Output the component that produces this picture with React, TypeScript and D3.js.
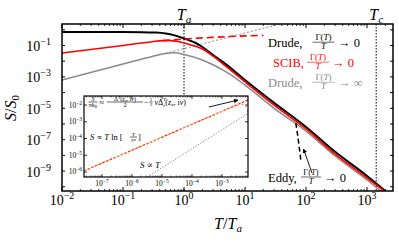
import React from "react";
import * as d3 from "d3";

// ---- main panel data (T/Ta, S/S0) ----
const drudeT = [0.01, 0.1, 0.2, 0.35, 0.5, 0.7, 1, 1.5, 2, 3, 5, 10, 30, 100, 300, 1000, 2000];
const drudeS = [0.72, 0.72, 0.71, 0.67, 0.58, 0.44, 0.28, 0.155, 0.08, 0.025, 5.8e-3, 6.3e-4, 2.2e-5, 6.5e-7, 1.7e-8, 4.9e-10, 5.4e-11];

const scibT = [0.01, 0.1, 0.3, 0.45, 0.6, 0.8, 1, 1.5, 2, 3, 5, 10, 30, 100, 300, 1000, 2000];
const scibS = [0.033, 0.1, 0.175, 0.205, 0.205, 0.18, 0.145, 0.093, 0.06, 0.021, 4.3e-3, 4.8e-4, 1.6e-5, 4.8e-7, 1.2e-8, 3.6e-10, 4.7e-11];

const scibDashT = [0.45, 1, 3, 10, 20];
const scibDashS = [0.205, 0.26, 0.33, 0.41, 0.44];

const drudeInfT = [0.01, 0.1, 0.3, 0.5, 0.7, 1, 2, 5, 10, 30, 100, 300, 1000, 2000];
const drudeInfS = [6.3e-4, 6.6e-3, 0.02, 0.031, 0.034, 0.027, 0.012, 2.0e-3, 3.0e-4, 1.0e-5, 3.5e-7, 9.1e-9, 2.7e-10, 3e-11];

const linearT = [0.5, 40];
const linearS = [0.032, 2.5];

const eddyT = [68, 72, 77, 82];
const eddyS = [1.15e-6, 2.7e-7, 4e-8, 5.1e-9];

const Ta = 1;
const Tc = 1413;

const xTicksMain = [-2, -1, 0, 1, 2, 3];
const yTicksMain = [-10, -9, -8, -7, -6, -5, -4, -3, -2, -1, 0];
const yLabelsMain = [-9, -7, -5, -3, -1];

// ---- inset data ----
const insetRedT = [2.5e-8, 1e-6, 1e-4, 7.4e-3];
const insetRedS = [1.15e-6, 2e-5, 7.1e-4, 0.02];
const insetOrangeT = [2.5e-8, 1e-6, 1e-4, 1e-3, 2.5e-3, 4.5e-3, 6.5e-3, 7.4e-3];
const insetOrangeS = [1.15e-6, 2e-5, 7.1e-4, 4.2e-3, 8e-3, 1.1e-2, 8e-3, 2.5e-3];
const insetGrayT = [3.2e-6, 7.4e-3];
const insetGrayS = [5e-7, 3.2e-3];
const insetXTicks = [-7, -6, -5, -4, -3];
const insetYTicks = [-6, -5, -4, -3, -2];

const FONT = "'Liberation Serif', 'DejaVu Serif', serif";

const M = { l: 62, r: 393, t: 24, b: 191 };
const I = { l: 84, r: 248, t: 96, b: 177 };

const x = d3.scaleLog().domain([1e-2, Math.pow(10, 3.426)]).range([M.l, M.r]);
const y = d3.scaleLog().domain([Math.pow(10, -10.27), Math.pow(10, 0.37)]).range([M.b, M.t]);
const ix = d3.scaleLog().domain([Math.pow(10, -7.6), Math.pow(10, -2.133)]).range([I.l, I.r]);
const iy = d3.scaleLog().domain([Math.pow(10, -6.3), Math.pow(10, -1.46)]).range([I.b, I.t]);

function mkLine(xs: any, ys: any, T: number[], S: number[]) {
  const pts: [number, number][] = T.map((t, i) => [xs(t), ys(S[i])]);
  return d3.line().curve(d3.curveMonotoneX)(pts) || "";
}

function Frac({ cx, by, w, fs, fill, num, den }: any) {
  return (
    <g fill={fill}>
      <text x={cx} y={by - fs * 0.22} fontSize={fs} textAnchor="middle">{num}</text>
      <line x1={cx - w / 2} x2={cx + w / 2} y1={by} y2={by} stroke={fill} strokeWidth={0.6} />
      <text x={cx} y={by + fs * 0.78} fontSize={fs} textAnchor="middle">{den}</text>
    </g>
  );
}

function GammaT() {
  return (<>Γ(<tspan fontStyle="italic">T</tspan>)</>);
}

function LegendRow({ yc, color, label, lx, fx, ax, end }: any) {
  return (
    <g fill={color} fontFamily={FONT}>
      <text x={lx} y={yc + 4.3} fontSize={12.5}>{label}</text>
      <Frac cx={fx} by={yc - 0.8} w={22} fs={9} fill={color} num={<GammaT />} den={<tspan fontStyle="italic">T</tspan>} />
      <text x={ax} y={yc + 4.3} fontSize={12.5}>{"→ "}{end}</text>
    </g>
  );
}

export default function App() {
  const minorX: number[] = [];
  for (let e = -2; e <= 3; e++) for (let k = 2; k <= 9; k++) { const v = k * Math.pow(10, e); if (v < x.domain()[1]) minorX.push(v); }
  const minorIX: number[] = [];
  for (let e = -8; e <= -3; e++) for (let k = 2; k <= 9; k++) { const v = k * Math.pow(10, e); if (v > ix.domain()[0] && v < ix.domain()[1]) minorIX.push(v); }

  return (
    <svg width={399} height={241} style={{ display: "block", position: "absolute", left: 0, top: 0 }} fontFamily={FONT}>
      <rect x={0} y={0} width={399} height={241} fill="white" />
      <defs>
        <clipPath id="mainclip"><rect x={M.l} y={M.t} width={M.r - M.l} height={M.b - M.t} /></clipPath>
        <clipPath id="insetclip"><rect x={I.l} y={I.t} width={I.r - I.l} height={I.b - I.t} /></clipPath>
        <marker id="ah" viewBox="0 0 10 10" refX="9" refY="5" markerWidth="5" markerHeight="5" orient="auto-start-reverse">
          <path d="M0,0 L10,5 L0,10 z" fill="black" />
        </marker>
      </defs>

      {/* main curves */}
      <g clipPath="url(#mainclip)" fill="none">
        <line x1={x(Ta)} x2={x(Ta)} y1={M.t} y2={M.b} stroke="black" strokeWidth={1} strokeDasharray="1.5,1.5" />
        <line x1={x(Tc)} x2={x(Tc)} y1={M.t} y2={M.b} stroke="black" strokeWidth={1} strokeDasharray="1.5,1.5" />
        <path d={mkLine(x, y, linearT, linearS)} stroke="#888" strokeWidth={1} strokeDasharray="2,2" />
        <path d={mkLine(x, y, drudeInfT, drudeInfS)} stroke="#8a8a8a" strokeWidth={1.5} />
        <path d={mkLine(x, y, drudeT, drudeS)} stroke="black" strokeWidth={2} />
        <path d={mkLine(x, y, scibT, scibS)} stroke="#ff0000" strokeWidth={1.6} />
        <path d={mkLine(x, y, scibDashT, scibDashS)} stroke="#ff0000" strokeWidth={1.6} strokeDasharray="7,4" />
        <path d={mkLine(x, y, eddyT, eddyS)} stroke="black" strokeWidth={1.5} strokeDasharray="5,3" />
      </g>

      {/* legend */}
      <rect x={265} y={30} width={104} height={62} fill="white" />
      <LegendRow yc={43} color="black" label="Drude," lx={268} fx={323.5} ax={338} end="0" />
      <LegendRow yc={63} color="#ff0000" label="SCIB," lx={273} fx={318} ax={332} end="0" />
      <LegendRow yc={83} color="#8a8a8a" label="Drude," lx={268} fx={323.5} ax={338} end="∞" />

      {/* eddy annotation */}
      <g fill="black">
        <text x={268} y={182} fontSize={12.5}>Eddy,</text>
        <Frac cx={311} by={177} w={20} fs={8.5} fill="black" num={<GammaT />} den={<tspan fontStyle="italic">T</tspan>} />
        <text x={324} y={182} fontSize={12.5}>→ 0</text>
      </g>
      <line x1={312} y1={173} x2={303.5} y2={149} stroke="black" strokeWidth={0.9} markerEnd="url(#ah)" />

      {/* inset */}
      <rect x={64} y={I.t} width={I.r - 64} height={I.b - I.t + 11} fill="white" />
      <g clipPath="url(#insetclip)" fill="none">
        <path d={mkLine(ix, iy, insetGrayT, insetGrayS)} stroke="#888" strokeWidth={0.9} strokeDasharray="1.5,1.5" />
        <path d={mkLine(ix, iy, insetRedT, insetRedS)} stroke="#ff0000" strokeWidth={1.1} strokeDasharray="2.5,1.5" />
        <path d={mkLine(ix, iy, insetOrangeT, insetOrangeS)} stroke="#ffa030" strokeWidth={1.1} strokeDasharray="2,2.5" />
      </g>
      <rect x={I.l} y={I.t} width={I.r - I.l} height={I.b - I.t} fill="none" stroke="black" strokeWidth={1.2} />
      {insetXTicks.map((e) => {
        const px = ix(Math.pow(10, e));
        return (
          <g key={"ixt" + e}>
            <line x1={px} x2={px} y1={I.b} y2={I.b - 3} stroke="black" strokeWidth={0.8} />
            <line x1={px} x2={px} y1={I.t} y2={I.t + 3} stroke="black" strokeWidth={0.8} />
            <text x={px} y={185.5} fontSize={7.5} textAnchor="middle">10<tspan dy={-3} fontSize={5.5}>{"−" + (-e)}</tspan></text>
          </g>
        );
      })}
      {minorIX.map((v, i) => (
        <g key={"imx" + i}>
          <line x1={ix(v)} x2={ix(v)} y1={I.b} y2={I.b - 1.5} stroke="black" strokeWidth={0.6} />
          <line x1={ix(v)} x2={ix(v)} y1={I.t} y2={I.t + 1.5} stroke="black" strokeWidth={0.6} />
        </g>
      ))}
      {insetYTicks.map((e) => {
        const py = iy(Math.pow(10, e));
        return (
          <g key={"iyt" + e}>
            <line x1={I.l} x2={I.l + 3} y1={py} y2={py} stroke="black" strokeWidth={0.8} />
            <line x1={I.r} x2={I.r - 3} y1={py} y2={py} stroke="black" strokeWidth={0.8} />
            <text x={82} y={py + 2.5} fontSize={7.5} textAnchor="end">10<tspan dy={-3} fontSize={5.5}>{"−" + (-e)}</tspan></text>
          </g>
        );
      })}

      {/* inset formula */}
      <g fill="black">
        <Frac cx={93} by={102} w={9} fs={6} fill="black" num={<tspan fontStyle="italic">S</tspan>} den={<>π<tspan fontStyle="italic">k</tspan><tspan fontSize={4} dy={1}>B</tspan></>} />
        <text x={99.5} y={104.5} fontSize={8}>≈</text>
        <Frac cx={125} by={102} w={36} fs={6} fill="black" num={<>Δ<tspan fontSize={4} dy={-2} fontStyle="italic">T</tspan><tspan dy={2}>(</tspan><tspan fontStyle="italic">z</tspan><tspan fontSize={4} dy={1} fontStyle="italic">a</tspan><tspan dy={-1}>, i</tspan><tspan fontStyle="italic">ν</tspan>)</>} den="2" />
        <text x={144} y={104.5} fontSize={8}>−</text>
        <Frac cx={151} by={102} w={3.5} fs={5} fill="black" num="1" den="3" />
        <text x={154.5} y={104.5} fontSize={8}><tspan fontStyle="italic">ν</tspan>Δ<tspan fontSize={5} dy={-3.5} fontStyle="italic">T</tspan><tspan fontSize={5} dx={-3} dy={6} fontStyle="italic">ν</tspan><tspan dy={-2.5}>(</tspan><tspan fontStyle="italic">z</tspan><tspan fontSize={5} dy={1.5} fontStyle="italic">a</tspan><tspan dy={-1.5}>, i</tspan><tspan fontStyle="italic">ν</tspan>)</text>
      </g>
      <line x1={209} y1={107} x2={238} y2={100} stroke="black" strokeWidth={0.9} markerEnd="url(#ah)" />

      <g fill="black">
        <text x={90} y={140} fontSize={8.5}><tspan fontStyle="italic">S</tspan> ∝ <tspan fontStyle="italic">T</tspan> ln [</text>
        <Frac cx={133.5} by={137} w={7} fs={5} fill="black" num={<tspan fontStyle="italic">T</tspan>} den={<><tspan fontStyle="italic">γa</tspan></>} />
        <text x={138} y={140} fontSize={8.5}>]</text>
        <text x={140} y={168} fontSize={9}><tspan fontStyle="italic">S</tspan> ∝ <tspan fontStyle="italic">T</tspan></text>
      </g>

      {/* main frame & ticks (drawn last) */}
      <rect x={M.l} y={M.t} width={M.r - M.l} height={M.b - M.t} fill="none" stroke="black" strokeWidth={1.5} />
      {xTicksMain.map((e) => {
        const px = x(Math.pow(10, e));
        return (
          <g key={"xt" + e}>
            <line x1={px} x2={px} y1={M.b} y2={M.b - 4} stroke="black" strokeWidth={1} />
            <line x1={px} x2={px} y1={M.t} y2={M.t + 4} stroke="black" strokeWidth={1} />
            <text x={px} y={205} fontSize={14} textAnchor="middle">10<tspan dy={-6} fontSize={10}>{e < 0 ? "−" + (-e) : String(e)}</tspan></text>
          </g>
        );
      })}
      {minorX.map((v, i) => (
        <g key={"mx" + i}>
          <line x1={x(v)} x2={x(v)} y1={M.b} y2={M.b - 2} stroke="black" strokeWidth={0.8} />
          <line x1={x(v)} x2={x(v)} y1={M.t} y2={M.t + 2} stroke="black" strokeWidth={0.8} />
        </g>
      ))}
      {yTicksMain.map((e) => {
        const py = y(Math.pow(10, e));
        return (
          <g key={"yt" + e}>
            <line x1={M.l} x2={M.l + 3} y1={py} y2={py} stroke="black" strokeWidth={1} />
            <line x1={M.r} x2={M.r - 3} y1={py} y2={py} stroke="black" strokeWidth={1} />
          </g>
        );
      })}
      {yLabelsMain.map((e) => {
        const py = y(Math.pow(10, e));
        return (
          <text key={"yl" + e} x={51} y={py + 5.5} fontSize={14} textAnchor="end">10<tspan dy={-6} fontSize={10}>{"−" + (-e)}</tspan></text>
        );
      })}

      {/* axis labels */}
      <text x={16} y={108} fontSize={16} textAnchor="middle" transform="rotate(-90,16,108)">
        <tspan fontStyle="italic">S</tspan>/<tspan fontStyle="italic">S</tspan><tspan fontSize={11} dy={3}>0</tspan>
      </text>
      <text x={228} y={229} fontSize={16} textAnchor="middle">
        <tspan fontStyle="italic">T</tspan>/<tspan fontStyle="italic">T</tspan><tspan fontSize={11} dy={3} fontStyle="italic">a</tspan>
      </text>
      <text x={x(Ta)} y={20} fontSize={16} textAnchor="middle"><tspan fontStyle="italic">T</tspan><tspan fontSize={11} dy={3} fontStyle="italic">a</tspan></text>
      <text x={x(Tc)} y={20} fontSize={16} textAnchor="middle"><tspan fontStyle="italic">T</tspan><tspan fontSize={11} dy={3} fontStyle="italic">c</tspan></text>
    </svg>
  );
}
